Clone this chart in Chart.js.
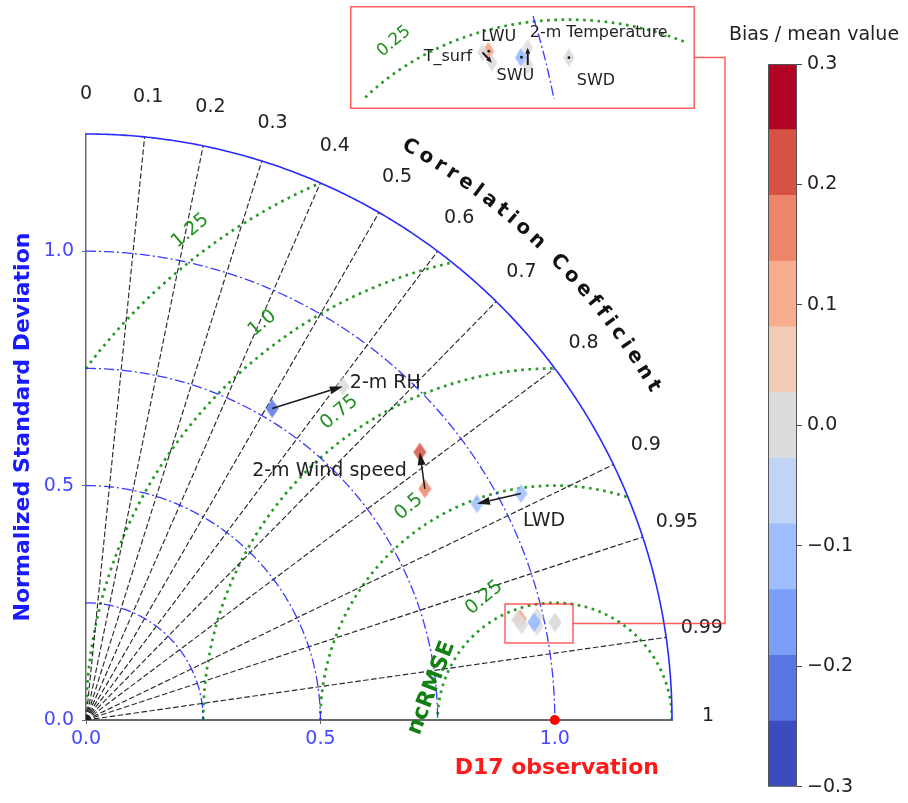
<!DOCTYPE html>
<html>
<head>
<meta charset="utf-8">
<script src="https://cdn.jsdelivr.net/npm/chart.js@4.4.1/dist/chart.umd.min.js"></script>
<style>
  html, body { margin: 0; padding: 0; background: #fff; }
  #wrap { position: relative; width: 908px; height: 803px; overflow: hidden; background: #fff; }
  canvas { position: absolute; }
  #main { left: 0; top: 0; }
  #inset { left: 350px; top: 6px; }
  #cbar { left: 700px; top: 0; }
</style>
</head>
<body>
<div id="wrap">
  <canvas id="main" width="908" height="803"></canvas>
  <canvas id="cbar" width="208" height="803"></canvas>
  <canvas id="inset" width="345" height="103"></canvas>
</div>
<script>
// ---- data -------------------------------------------------------------
// Each variable: normalized standard deviation and correlation for the
// first run (start) and the second run (end), plus bias / mean value.
const variables = ['2-m RH', '2-m Wind speed', 'LWD', 'T_surf', 'LWU', 'SWU', '2-m Temperature', 'SWD'];
const stdStart  = [0.774, 0.875, 1.046, 0.945, 0.950, 0.978, 0.983, 1.022];
const corrStart = [0.513, 0.826, 0.887, 0.974, 0.974, 0.977, 0.979, 0.979];
const biasStart = [-0.20, 0.16, -0.10, 0.00, 0.12, -0.10, 0.00, 0.00];
const stdEnd    = [0.898, 0.913, 0.953, 0.951, 0.951, 0.979, 0.987, 1.022];
const corrEnd   = [0.610, 0.780, 0.875, 0.977, 0.974, 0.977, 0.975, 0.979];
const biasEnd   = [0.00, 0.22, -0.10, 0.00, 0.12, -0.10, 0.00, 0.00];

// reference observation (normalized std = 1, correlation = 1)
const obsStd = [1.0];
const obsCorr = [1.0];

// diagram grid
const corrTicks  = [0, 0.1, 0.2, 0.3, 0.4, 0.5, 0.6, 0.7, 0.8, 0.9, 0.95, 0.99, 1];
const stdArcs    = [0.25, 0.5, 0.75, 1.0];
const stdMax     = [1.25];
const rmseLevels = [0.25, 0.5, 0.75, 1.0, 1.25];
const axisTicks  = [0, 0.5, 1.0];

// zoomed region shown in the inset
const zoomBoxX = [0.8938, 1.0388];
const zoomBoxY = [0.1643, 0.2474];
const insetX   = [0.807, 1.108];
const insetY   = [0.163, 0.254];
const insetRmse = [0.25];
const insetStd  = [1.0];

// discrete colour bar (coolwarm, 11 levels)
const biasBounds = [-0.3, -0.2455, -0.1909, -0.1364, -0.0818, -0.0273, 0.0273, 0.0818, 0.1364, 0.1909, 0.2455, 0.3];
const biasColors = ['#3b4cc0', '#5977e3', '#7b9ff9', '#9ebeff', '#c0d4f5', '#dddcdc', '#f2cbb7', '#f7ac8e', '#ee8468', '#d65244', '#b40426'];
const biasTicks  = [-0.3, -0.2, -0.1, 0, 0.1, 0.2, 0.3];

// ---- styling / layout ---------------------------------------------------
const FONT = "'DejaVu Sans', 'Liberation Sans', sans-serif";
Chart.defaults.font.family = FONT;
const GREEN = 'rgb(40,155,40)';
const GREEN_TEXT = 'rgb(34,145,34)';
const BLUE_LINE = 'rgba(25,25,255,0.85)';
const TEXT = '#222222';
const RED_BOX = 'rgba(255,40,40,0.75)';

// text positions of variable names, in pixels from the end marker
const labelOffsets = [
  { dx: 7,   dy: -3,  align: 'left' },
  { dx: -13, dy: 19,  align: 'right' },
  { dx: 46,  dy: 17,  align: 'left' },
  { dx: -44, dy: -6,  align: 'center' },
  { dx: 10,  dy: -14, align: 'center' },
  { dx: -6,  dy: 19,  align: 'center' },
  { dx: 71,  dy: -15, align: 'center' },
  { dx: 27,  dy: 23,  align: 'center' }
];
const rmseLabelDeg = [120, 124.4, 125, 126.4, 126.7];

// ---- helpers ------------------------------------------------------------
function toXY(std, corr) {
  return { x: std * corr, y: std * Math.sqrt(Math.max(0, 1 - corr * corr)) };
}
function biasColor(b) {
  for (let i = 0; i < biasColors.length - 1; i++) {
    if (b < biasBounds[i + 1]) return biasColors[i];
  }
  return biasColors[biasColors.length - 1];
}
const diamondCache = {};
function diamond(color, w, h) {
  const key = color + w + 'x' + h;
  if (diamondCache[key]) return diamondCache[key];
  const c = document.createElement('canvas');
  c.width = w + 2; c.height = h + 2;
  const g = c.getContext('2d');
  g.beginPath();
  g.moveTo(c.width / 2, 1);
  g.lineTo(w + 1, c.height / 2);
  g.lineTo(c.width / 2, h + 1);
  g.lineTo(1, c.height / 2);
  g.closePath();
  g.globalAlpha = 0.85;
  g.fillStyle = color;
  g.fill();
  diamondCache[key] = c;
  return c;
}
function markerDatasets(w, h) {
  return variables.map((name, i) => ({
    label: name,
    data: [toXY(stdStart[i], corrStart[i]), toXY(stdEnd[i], corrEnd[i])],
    pointStyle: [diamond(biasColor(biasStart[i]), w, h), diamond(biasColor(biasEnd[i]), w, h)],
    pointRadius: 9,
    pointHoverRadius: 9,
    showLine: false
  }));
}
function mapPt(chart, x, y) {
  return [chart.scales.x.getPixelForValue(x), chart.scales.y.getPixelForValue(y)];
}
function strokeCurve(ctx, chart, fn, t0, t1, n) {
  ctx.beginPath();
  for (let k = 0; k <= n; k++) {
    const t = t0 + (t1 - t0) * k / n;
    const [x, y] = fn(t);
    const p = mapPt(chart, x, y);
    if (k === 0) ctx.moveTo(p[0], p[1]); else ctx.lineTo(p[0], p[1]);
  }
  ctx.stroke();
}
function drawArrow(ctx, x0, y0, x1, y1, headLen, headW, lw) {
  const dx = x1 - x0, dy = y1 - y0, L = Math.hypot(dx, dy);
  ctx.fillStyle = '#1a1a1a';
  ctx.strokeStyle = '#1a1a1a';
  if (L < 3) {
    ctx.beginPath(); ctx.arc(x1, y1, 1.4, 0, Math.PI * 2); ctx.fill();
    return;
  }
  const hl = Math.min(headLen, L * 0.6), hw = headW * hl / headLen;
  const ux = dx / L, uy = dy / L;
  const bx = x1 - ux * hl, by = y1 - uy * hl;
  ctx.lineWidth = lw;
  ctx.setLineDash([]);
  ctx.beginPath(); ctx.moveTo(x0, y0); ctx.lineTo(bx, by); ctx.stroke();
  ctx.beginPath();
  ctx.moveTo(x1, y1);
  ctx.lineTo(bx - uy * hw / 2, by + ux * hw / 2);
  ctx.lineTo(bx + uy * hw / 2, by - ux * hw / 2);
  ctx.closePath(); ctx.fill();
}
function inInset(i) {
  const a = toXY(stdStart[i], corrStart[i]), b = toXY(stdEnd[i], corrEnd[i]);
  return [a, b].every(p => p.x >= insetX[0] && p.x <= insetX[1] && p.y >= insetY[0] && p.y <= insetY[1]);
}
function drawRmseLabel(ctx, chart, r, deg, offset, size) {
  const t = deg * Math.PI / 180;
  const p = mapPt(chart, 1 + r * Math.cos(t), r * Math.sin(t));
  const x = p[0] + offset * Math.cos(t), y = p[1] - offset * Math.sin(t);
  ctx.save();
  ctx.translate(x, y);
  ctx.rotate(-40 * Math.PI / 180);
  ctx.fillStyle = GREEN_TEXT;
  ctx.font = size + 'px ' + FONT;
  ctx.textAlign = 'center'; ctx.textBaseline = 'middle';
  ctx.fillText(r.toFixed(2).replace(/0$/, ''), 0, 0);
  ctx.restore();
}

// ---- main Taylor diagram -------------------------------------------------
const taylorGrid = {
  id: 'taylorGrid',
  beforeDatasetsDraw(chart) {
    const ctx = chart.ctx;
    const R = stdMax[0];
    ctx.save();
    // clip to the quarter disc of the diagram
    ctx.beginPath();
    const o = mapPt(chart, 0, 0);
    ctx.moveTo(o[0], o[1]);
    for (let k = 0; k <= 200; k++) {
      const t = (Math.PI / 2) * k / 200;
      const p = mapPt(chart, R * Math.cos(t), R * Math.sin(t));
      ctx.lineTo(p[0], p[1]);
    }
    ctx.closePath();
    ctx.clip();

    // centred RMS difference circles around the observation
    ctx.strokeStyle = GREEN; ctx.lineWidth = 2.7; ctx.setLineDash([2.7, 4.5]);
    rmseLevels.forEach(r => strokeCurve(ctx, chart, t => [1 + r * Math.cos(t), r * Math.sin(t)], 0, Math.PI, 500));

    // correlation rays
    ctx.strokeStyle = 'rgba(30,30,30,0.95)'; ctx.lineWidth = 1.15; ctx.setLineDash([5.5, 2.5]);
    corrTicks.filter(c => c > 0 && c < 1).forEach(c => {
      const p = mapPt(chart, R * c, R * Math.sqrt(1 - c * c));
      ctx.beginPath(); ctx.moveTo(o[0], o[1]); ctx.lineTo(p[0], p[1]); ctx.stroke();
    });

    // standard deviation arcs
    ctx.strokeStyle = BLUE_LINE; ctx.lineWidth = 1.3; ctx.setLineDash([10, 3, 2, 3]);
    stdArcs.forEach(s => strokeCurve(ctx, chart, t => [s * Math.cos(t), s * Math.sin(t)], Math.PI / 2, 0, 200));
    ctx.restore();

    // outer boundary
    ctx.save();
    ctx.strokeStyle = '#2a2aff'; ctx.lineWidth = 1.6; ctx.setLineDash([]);
    strokeCurve(ctx, chart, t => [R * Math.cos(t), R * Math.sin(t)], 0, Math.PI / 2, 300);
    ctx.restore();
  },
  afterDatasetsDraw(chart) {
    const ctx = chart.ctx;
    ctx.save();
    variables.forEach((name, i) => {
      if (inInset(i)) return;
      const a = toXY(stdStart[i], corrStart[i]), b = toXY(stdEnd[i], corrEnd[i]);
      const pa = mapPt(chart, a.x, a.y), pb = mapPt(chart, b.x, b.y);
      drawArrow(ctx, pa[0], pa[1], pb[0], pb[1], 13, 8, 1.5);
      const off = labelOffsets[i];
      ctx.fillStyle = TEXT;
      ctx.font = '19px ' + FONT;
      ctx.textAlign = off.align; ctx.textBaseline = 'middle';
      ctx.fillText(name, pb[0] + off.dx, pb[1] + off.dy);
    });
    ctx.restore();
  },
  afterDraw(chart) {
    const ctx = chart.ctx;
    const o = mapPt(chart, 0, 0);
    ctx.save();

    // correlation tick labels
    ctx.fillStyle = TEXT; ctx.font = '19px ' + FONT;
    ctx.textAlign = 'center'; ctx.textBaseline = 'middle';
    corrTicks.forEach(c => {
      const r = 622, t = Math.acos(c);
      ctx.fillText(String(c), o[0] + r * Math.cos(t), o[1] - r * Math.sin(t) - 4);
    });

    // curved axis title
    const title = 'Correlation Coefficient';
    ctx.font = 'bold 20px ' + FONT;
    const widths = [...title].map(ch => ctx.measureText(ch).width);
    const spacing = 4.6;
    const total = widths.reduce((s, w) => s + w, 0) + spacing * (title.length - 1);
    const Rt = 658, mid = 45.6 * Math.PI / 180;
    let s = -total / 2;
    [...title].forEach((ch, i) => {
      const a = mid - (s + widths[i] / 2) / Rt;
      ctx.save();
      ctx.translate(o[0] + Rt * Math.cos(a), o[1] - Rt * Math.sin(a));
      ctx.rotate(Math.PI / 2 - a);
      ctx.fillStyle = '#111';
      ctx.fillText(ch, 0, 0);
      ctx.restore();
      s += widths[i] + spacing;
    });

    // RMS difference labels
    rmseLevels.forEach((r, i) => drawRmseLabel(ctx, chart, r, rmseLabelDeg[i], 24, 19));
    ctx.save();
    const pn = mapPt(chart, 0.737, 0.068);
    ctx.translate(pn[0], pn[1]);
    ctx.rotate(-69 * Math.PI / 180);
    ctx.fillStyle = 'rgb(20,128,20)';
    ctx.font = 'bold 22px ' + FONT;
    ctx.textAlign = 'center'; ctx.textBaseline = 'middle';
    ctx.fillText('ncRMSE', 0, 0);
    ctx.restore();

    // observation label
    const po = mapPt(chart, obsStd[0] * obsCorr[0], 0);
    ctx.fillStyle = '#ff1a1a';
    ctx.font = 'bold 22px ' + FONT;
    ctx.textAlign = 'center'; ctx.textBaseline = 'middle';
    ctx.fillText('D17 observation', po[0] + 2, 768);

    // zoom box and connector to the inset
    const b0 = mapPt(chart, zoomBoxX[0], zoomBoxY[1]);
    const b1 = mapPt(chart, zoomBoxX[1], zoomBoxY[0]);
    ctx.strokeStyle = RED_BOX; ctx.lineWidth = 1.5; ctx.setLineDash([]);
    ctx.strokeRect(b0[0], b0[1], b1[0] - b0[0], b1[1] - b0[1]);
    const midY = (b0[1] + b1[1]) / 2;
    ctx.beginPath();
    ctx.moveTo(b1[0], midY);
    ctx.lineTo(725, midY);
    ctx.lineTo(725, 57.5);
    ctx.lineTo(694.5, 57.5);
    ctx.stroke();
    ctx.restore();
  }
};

const mainDatasets = markerDatasets(13, 19);
mainDatasets.unshift({
  label: 'D17 observation',
  data: obsStd.map((s, i) => toXY(s, obsCorr[i])),
  pointStyle: 'circle',
  pointRadius: 5,
  backgroundColor: '#ff0000',
  borderWidth: 0,
  clip: false
});

new Chart(document.getElementById('main'), {
  type: 'scatter',
  data: { datasets: mainDatasets },
  options: {
    responsive: false,
    animation: false,
    devicePixelRatio: 1,
    events: [],
    layout: { padding: { left: 0, top: 134, right: 236, bottom: 0 } },
    plugins: { legend: { display: false }, tooltip: { enabled: false } },
    scales: {
      x: {
        type: 'linear', min: 0, max: stdMax[0],
        afterBuildTicks: s => { s.ticks = axisTicks.map(v => ({ value: v })); },
        afterFit: s => { s.height = 83; },
        grid: { drawOnChartArea: false, drawTicks: true, tickLength: 4, color: '#666' },
        border: { display: true, color: '#6a6a6a', width: 2 },
        ticks: { color: '#4848ff', font: { size: 19 }, padding: 4, maxRotation: 0, autoSkip: false,
                 callback: v => Number(v).toFixed(1) }
      },
      y: {
        type: 'linear', min: 0, max: stdMax[0],
        afterBuildTicks: s => { s.ticks = axisTicks.map(v => ({ value: v })); },
        afterFit: s => { s.width = 86; },
        grid: { drawOnChartArea: false, drawTicks: true, tickLength: 4, color: '#666' },
        border: { display: true, color: '#6a6a6a', width: 1.5 },
        ticks: { color: '#4848ff', font: { size: 19 }, padding: 8, autoSkip: false,
                 callback: v => Number(v).toFixed(1) },
        title: { display: true, text: 'Normalized Standard Deviation', color: '#1a1aff',
                 font: { size: 22, weight: 'bold' }, padding: { top: 10, bottom: 0 } }
      }
    }
  },
  plugins: [taylorGrid]
});

// ---- inset: zoom on the cluster near the observation -----------------------
const insetGrid = {
  id: 'insetGrid',
  beforeDraw(chart) {
    const ctx = chart.ctx;
    ctx.save(); ctx.fillStyle = '#fff'; ctx.fillRect(0, 0, chart.width, chart.height); ctx.restore();
  },
  beforeDatasetsDraw(chart) {
    const ctx = chart.ctx, a = chart.chartArea;
    ctx.save();
    ctx.beginPath(); ctx.rect(a.left, a.top, a.right - a.left, a.bottom - a.top); ctx.clip();
    ctx.strokeStyle = GREEN; ctx.lineWidth = 2.7; ctx.setLineDash([2.7, 4.5]);
    insetRmse.forEach(r => strokeCurve(ctx, chart, t => [1 + r * Math.cos(t), r * Math.sin(t)], 0, Math.PI, 800));
    ctx.strokeStyle = BLUE_LINE; ctx.lineWidth = 1.3; ctx.setLineDash([10, 3, 2, 3]);
    insetStd.forEach(s => strokeCurve(ctx, chart, t => [s * Math.cos(t), s * Math.sin(t)], Math.PI / 2, 0, 800));
    ctx.setLineDash([]);
    insetRmse.forEach(r => drawRmseLabel(ctx, chart, r, 126, 27, 17));
    ctx.restore();
  },
  afterDatasetsDraw(chart) {
    const ctx = chart.ctx;
    ctx.save();
    variables.forEach((name, i) => {
      if (!inInset(i)) return;
      const a = toXY(stdStart[i], corrStart[i]), b = toXY(stdEnd[i], corrEnd[i]);
      const pa = mapPt(chart, a.x, a.y), pb = mapPt(chart, b.x, b.y);
      drawArrow(ctx, pa[0], pa[1], pb[0], pb[1], 6, 5, 2);
      const off = labelOffsets[i];
      ctx.fillStyle = TEXT;
      ctx.font = '16px ' + FONT;
      ctx.textAlign = off.align; ctx.textBaseline = 'middle';
      ctx.fillText(name, pb[0] + off.dx, pb[1] + off.dy);
    });
    ctx.restore();
  },
  afterDraw(chart) {
    const ctx = chart.ctx;
    ctx.save();
    ctx.strokeStyle = RED_BOX; ctx.lineWidth = 1.5;
    ctx.strokeRect(0.75, 0.75, chart.width - 1.5, chart.height - 1.5);
    ctx.restore();
  }
};

new Chart(document.getElementById('inset'), {
  type: 'scatter',
  data: { datasets: markerDatasets(11, 18) },
  options: {
    responsive: false,
    animation: false,
    devicePixelRatio: 1,
    events: [],
    layout: { padding: 0 },
    plugins: { legend: { display: false }, tooltip: { enabled: false } },
    scales: {
      x: { type: 'linear', min: insetX[0], max: insetX[1], display: false },
      y: { type: 'linear', min: insetY[0], max: insetY[1], display: false }
    }
  },
  plugins: [insetGrid]
});

// ---- colour bar -----------------------------------------------------------
const cbarDecor = {
  id: 'cbarDecor',
  afterDraw(chart) {
    const ctx = chart.ctx, a = chart.chartArea;
    ctx.save();
    ctx.strokeStyle = '#555'; ctx.lineWidth = 1;
    ctx.strokeRect(a.left + 0.5, a.top + 0.5, a.right - a.left - 1, a.bottom - a.top - 1);
    ctx.fillStyle = TEXT;
    ctx.font = '19px ' + FONT;
    ctx.textAlign = 'center'; ctx.textBaseline = 'middle';
    ctx.fillText('Bias / mean value', 114, 35);
    ctx.restore();
  }
};

new Chart(document.getElementById('cbar'), {
  type: 'bar',
  data: {
    labels: [''],
    datasets: biasColors.map((c, i) => ({
      data: [[biasBounds[i], biasBounds[i + 1]]],
      backgroundColor: c,
      borderWidth: 0,
      grouped: false,
      barPercentage: 1,
      categoryPercentage: 1
    }))
  },
  options: {
    responsive: false,
    animation: false,
    devicePixelRatio: 1,
    events: [],
    layout: { padding: { left: 68, top: 64, right: 0, bottom: 13 } },
    plugins: { legend: { display: false }, tooltip: { enabled: false } },
    scales: {
      x: { display: false },
      y: {
        position: 'right', min: biasBounds[0], max: biasBounds[biasBounds.length - 1],
        afterBuildTicks: s => { s.ticks = biasTicks.map(v => ({ value: v })); },
        afterFit: s => { s.width = 111; },
        grid: { drawOnChartArea: false, drawTicks: true, tickLength: 5, color: '#444' },
        border: { display: false },
        ticks: { color: TEXT, font: { size: 19 }, padding: 5, autoSkip: false,
                 callback: v => (v < 0 ? '\u2212' : '') + Math.abs(v).toFixed(1) }
      }
    }
  },
  plugins: [cbarDecor]
});
</script>
</body>
</html>
